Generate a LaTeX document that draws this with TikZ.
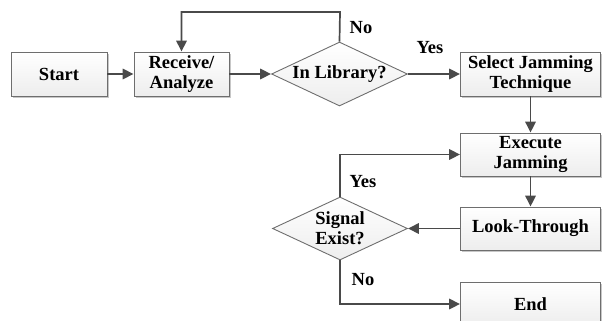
\documentclass[tikz,border=0pt]{standalone}
\usepackage{fontspec}
\setmainfont{Liberation Serif}
\usetikzlibrary{positioning, arrows.meta, shapes.geometric, shadows}
\definecolor{linegray}{HTML}{4A4A4A}
\definecolor{edgegray}{HTML}{6E6E6E}
\tikzset{
  x=1pt, y=-1pt,
  >={Triangle[length=11pt,width=10.5pt]},
  every node/.style={font=\bfseries\fontsize{18.5}{20}\selectfont, text=black},
  stepbox/.style={rectangle, draw=edgegray, line width=0.9pt,
    top color=white, bottom color=gray!14,
    drop shadow={shadow xshift=1.6pt, shadow yshift=-1.6pt, fill=black!22, opacity=1},
    minimum width=140pt, minimum height=44pt, inner sep=0pt, align=center},
  decision/.style={diamond, draw=edgegray, line width=0.9pt,
    top color=white, bottom color=gray!14,
    aspect=2.1, inner sep=0pt, minimum width=136pt, minimum height=64pt, align=center},
  flow/.style={->, draw=linegray, line width=1.7pt},
  lbl/.style={inner sep=0pt},
}
\begin{document}
\begin{tikzpicture}
  \useasboundingbox (0,0) rectangle (605,321);

  \node[stepbox, minimum width=96pt] (start) at (59,74) {Start};
  \node[stepbox, minimum width=95pt, node distance=122.5pt, right of=start] (recv) {Receive/\\Analyze};
  \node[decision, node distance=158pt, right of=recv] (lib) {In Library?};
  \node[stepbox, node distance=191pt, right of=lib] (sel) {Select Jamming\\Technique};
  \node[stepbox, minimum height=43pt, node distance=80.5pt, below of=sel] (exec) {Execute\\Jamming};
  \node[stepbox, minimum height=43pt, node distance=74pt, below of=exec] (look) {Look-Through};
  \node[stepbox, node distance=75.5pt, below of=look] (end) {End};
  \node[decision, minimum width=135pt, minimum height=63pt, node distance=190.5pt, left of=look] (sig) {Signal\\Exist?};

  \coordinate (top) at (340,12);

  \draw[flow] (start) -- (recv);
  \draw[flow] (recv) -- (lib);
  \draw[flow] (lib.east) -- (sel.west);
  \draw[flow] (lib.north) -- (top) -| (recv.north);
  \draw[flow] (sel) -- (exec);
  \draw[flow] (exec) -- (look);
  \draw[flow] (look.west) -- (sig.east);
  \draw[flow] (sig.north) |- (exec.west);
  \draw[flow] (sig.south) |- (end.west);

  \node[lbl] (no1) at (361,28) {No};
  \node[lbl] (yes1) at (430,48) {Yes};
  \node[lbl] (yes2) at (363,182) {Yes};
  \node[lbl] (no2) at (363,280) {No};
\end{tikzpicture}
\end{document}
